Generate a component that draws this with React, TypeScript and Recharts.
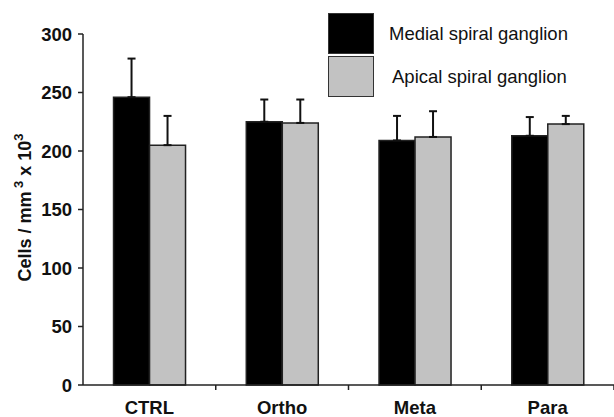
import React from 'react'
import { BarChart, Bar, XAxis, YAxis, ErrorBar, Legend } from 'recharts'

const groups = ['CTRL', 'Ortho', 'Meta', 'Para']
const medial = [246, 225, 209, 213]
const medialErr = [33, 19, 21, 16]
const apical = [205, 224, 212, 223]
const apicalErr = [25, 20, 22, 7]
const yTicks = [0, 50, 100, 150, 200, 250, 300]
const seriesNames = ['Medial spiral ganglion', 'Apical spiral ganglion']

const FONT = '"Liberation Sans", Arial, Helvetica, sans-serif'

const data = groups.map((g, i) => ({
  group: g,
  medial: medial[i],
  medialErr: [0, medialErr[i]],
  apical: apical[i],
  apicalErr: [0, apicalErr[i]],
}))

const XTick = (props: any) => {
  const { x, y, payload } = props
  const half = payload && payload.offset ? payload.offset : 66
  return (
    <g>
      <line x1={x + half} y1={y} x2={x + half} y2={y + 5} stroke="#222" strokeWidth={1.5} />
      <text x={x} y={y + 29} textAnchor="middle" fontFamily={FONT} fontWeight="bold" fontSize={18.5} fill="#111">
        {payload.value}
      </text>
    </g>
  )
}

const YLabel = (props: any) => {
  const vb = props.viewBox || { x: 0, y: 34, width: 83, height: 351 }
  const cx = vb.x + 31
  const cy = vb.y + vb.height / 2 - 2
  return (
    <text
      x={cx}
      y={cy}
      transform={`rotate(-90, ${cx}, ${cy})`}
      textAnchor="middle"
      fontFamily={FONT}
      fontWeight="bold"
      fontSize={18}
      fill="#111"
    >
      <tspan>Cells / mm</tspan>
      <tspan dy={-8} fontSize={13}> 3</tspan>
      <tspan dy={8}> x 10</tspan>
      <tspan dy={-8} fontSize={13}>3</tspan>
    </text>
  )
}

const LegendBox = (props: any) => {
  const items = [...(props.payload || [])].sort(
    (a: any, b: any) => seriesNames.indexOf(a.value) - seriesNames.indexOf(b.value)
  )
  return (
    <div style={{ fontFamily: FONT }}>
      {items.map((it: any, i: number) => (
        <div key={i} style={{ display: 'flex', alignItems: 'center', height: 43 }}>
          <div
            style={{
              width: 44,
              height: 39,
              background: it.color,
              border: '1.5px solid #333',
            }}
          />
          <span style={{ marginLeft: 15 + i * 3, fontSize: 18.5, color: '#111' }}>{it.value}</span>
        </div>
      ))}
    </div>
  )
}

export default function App() {
  return (
    <div style={{ position: 'absolute', left: 0, top: 0, width: 614, height: 417, background: '#fff' }}>
      <BarChart
        width={614}
        height={417}
        data={data}
        margin={{ top: 34, right: 0, left: 0, bottom: 0 }}
        barGap={0}
        barCategoryGap="23%"
      >
        <XAxis
          dataKey="group"
          height={32}
          axisLine={{ stroke: '#222', strokeWidth: 1.5 }}
          tickLine={false}
          tickSize={0}
          tickMargin={0}
          tick={<XTick />}
          interval={0}
        />
        <YAxis
          width={83}
          domain={[0, 300]}
          ticks={yTicks}
          interval={0}
          axisLine={{ stroke: '#222', strokeWidth: 1.5 }}
          tickLine={{ stroke: '#222', strokeWidth: 1.5 }}
          tickSize={5}
          tickMargin={6}
          tick={{ fontFamily: FONT, fontWeight: 'bold', fontSize: 18.5, fill: '#111' }}
          label={{ content: <YLabel /> }}
        />
        <Legend
          layout="vertical"
          align="center"
          verticalAlign="middle"
          content={<LegendBox />}
          wrapperStyle={{ left: 328, top: 12, width: 280, height: 90 }}
        />
        <Bar dataKey="medial" name="Medial spiral ganglion" fill="#000" stroke="#222" strokeWidth={1.5} isAnimationActive={false}>
          <ErrorBar dataKey="medialErr" direction="y" width={4} stroke="#111" strokeWidth={2} />
        </Bar>
        <Bar dataKey="apical" name="Apical spiral ganglion" fill="#c2c2c2" stroke="#222" strokeWidth={1.5} isAnimationActive={false}>
          <ErrorBar dataKey="apicalErr" direction="y" width={4} stroke="#111" strokeWidth={2} />
        </Bar>
      </BarChart>
    </div>
  )
}
